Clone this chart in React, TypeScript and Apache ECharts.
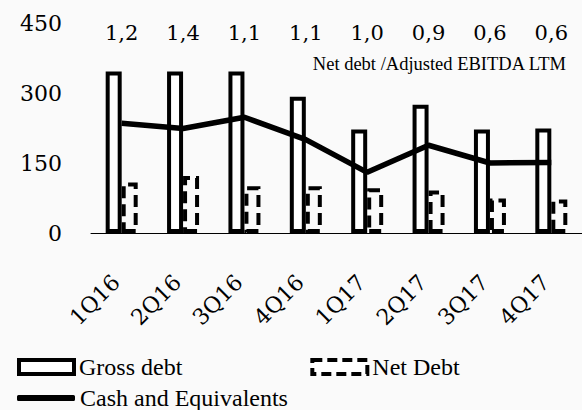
import React, { useEffect, useRef } from "react";
import * as echarts from "echarts";

const categories = ["1Q16", "2Q16", "3Q16", "4Q16", "1Q17", "2Q17", "3Q17", "4Q17"];
const ratioLabels = ["1,2", "1,4", "1,1", "1,1", "1,0", "0,9", "0,6", "0,6"];
const grossDebt = [346, 346, 346, 292, 222, 275, 222, 224];
const netDebt = [108, 122, 100, 100, 96, 91, 74, 72];
const cashEquivalents = [235, 224, 248, 200, 130, 188, 150, 151];
const yTicks = [0, 150, 300, 450];

const NUM_FONT = "DejaVu Serif";
const TEXT_FONT = "Liberation Serif";

export default function App() {
  const ref = useRef<HTMLDivElement>(null);
  useEffect(() => {
    document.body.style.margin = "0";
    const chart = echarts.init(ref.current!, null, { renderer: "svg" });
    chart.setOption({
      animation: false,
      backgroundColor: "#fafafa",
      title: {
        text: "Net debt /Adjusted EBITDA LTM",
        right: 15,
        top: 54,
        padding: 0,
        textStyle: { fontFamily: TEXT_FONT, fontSize: 18.5, fontWeight: "normal", color: "#000" },
      },
      legend: [
        {
          left: 17,
          top: 355,
          padding: 0,
          itemWidth: 55,
          itemHeight: 14,
          itemGap: 128,
          icon: "rect",
          textStyle: { fontFamily: TEXT_FONT, fontSize: 24, color: "#000" },
          data: [
            { name: "Gross debt", itemStyle: { color: "#fff", borderColor: "#000", borderWidth: 4 } },
            {
              name: "Net Debt",
              itemStyle: { color: "#fff", borderColor: "#000", borderWidth: 4, borderType: [10, 5] },
            },
          ],
        },
        {
          left: 17,
          top: 386,
          padding: 0,
          itemWidth: 58,
          itemHeight: 6,
          icon: "roundRect",
          textStyle: { fontFamily: TEXT_FONT, fontSize: 24, color: "#000" },
          data: [{ name: "Cash and Equivalents", itemStyle: { color: "#000" } }],
        },
      ],
      grid: { left: 91, top: 23, width: 494, height: 210 },
      xAxis: [
        {
          type: "category",
          data: categories,
          position: "bottom",
          axisLine: { lineStyle: { color: "#000", width: 1 } },
          axisTick: { show: false },
          axisLabel: {
            rotate: 45,
            margin: 40,
            padding: [0, 8, 0, 0],
            interval: 0,
            fontFamily: NUM_FONT,
            fontSize: 22,
            color: "#000",
          },
        },
        {
          type: "category",
          data: ratioLabels,
          position: "top",
          axisLine: { show: false },
          axisTick: { show: false },
          axisLabel: {
            margin: -20,
            interval: 0,
            fontFamily: NUM_FONT,
            fontSize: 21,
            color: "#000",
          },
        },
      ],
      yAxis: {
        type: "value",
        min: 0,
        max: yTicks[yTicks.length - 1],
        interval: 150,
        axisLine: { show: false },
        axisTick: { show: false },
        splitLine: { show: false },
        axisLabel: { margin: 29, fontFamily: NUM_FONT, fontSize: 22, color: "#000" },
      },
      series: [
        {
          name: "Gross debt",
          type: "bar",
          data: grossDebt,
          barWidth: 16,
          barGap: 0,
          itemStyle: { color: "#fff", borderColor: "#000", borderWidth: 4 },
        },
        {
          name: "Net Debt",
          type: "bar",
          data: netDebt,
          barWidth: 16,
          barGap: 0,
          itemStyle: { color: "rgba(255,255,255,0)", borderColor: "#000", borderWidth: 4, borderType: [12, 6] },
        },
        {
          name: "Cash and Equivalents",
          type: "line",
          data: cashEquivalents,
          symbol: "none",
          lineStyle: { color: "#000", width: 5.5 },
          itemStyle: { color: "#000" },
          z: 5,
        },
      ],
    });
    return () => chart.dispose();
  }, []);
  return <div ref={ref} style={{ width: 582, height: 410 }} />;
}
